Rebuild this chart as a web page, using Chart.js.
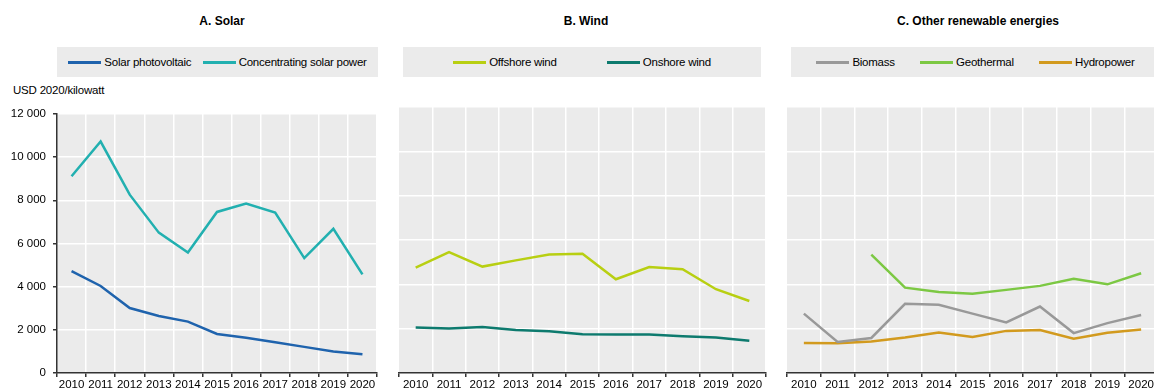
<!DOCTYPE html>
<html>
<head>
<meta charset="utf-8">
<script src="https://cdn.jsdelivr.net/npm/chart.js@4.4.1/dist/chart.umd.min.js"></script>
<style>
    body {
        margin: 0;
        width: 1154px;
        height: 390px;
        background: #fff;
        position: relative;
        overflow: hidden;
        font-family: "Liberation Sans", Arial, sans-serif;
        color: #000;
    }
    .title {
        position: absolute;
        top: 14px;
        font-size: 12px;
        font-weight: bold;
        white-space: nowrap;
        transform: translateX(-50%);
    }
    .legend {
        position: absolute;
        top: 47px;
        height: 30px;
        background: #ebebeb;
        display: flex;
        justify-content: space-evenly;
        align-items: center;
        font-size: 11.5px;
        letter-spacing: -0.25px;
    }
    .legend .item { display: flex; align-items: center; white-space: nowrap; }
    .legend .swatch { width: 33px; height: 3px; margin-right: 3px; }
    .unit { position: absolute; left: 13px; top: 84px; font-size: 11.5px; letter-spacing: -0.2px; white-space: nowrap; }
    .panel { position: absolute; top: 100px; height: 290px; }
</style>
</head>
<body>
    <div class="title" style="left:222px">A. Solar</div>
    <div class="title" style="left:586px">B. Wind</div>
    <div class="title" style="left:978px">C. Other renewable energies</div>

    <div class="legend" id="legendA" style="left:57px;width:321px"></div>
    <div class="legend" id="legendB" style="left:403px;width:358px"></div>
    <div class="legend" id="legendC" style="left:791px;width:369px"></div>

    <div class="unit">USD 2020/kilowatt</div>

    <div class="panel" style="left:0;width:385px"><canvas id="chartA"></canvas></div>
    <div class="panel" style="left:385px;width:390px"><canvas id="chartB"></canvas></div>
    <div class="panel" style="left:775px;width:390px"><canvas id="chartC"></canvas></div>

<script>
const years = ["2010", "2011", "2012", "2013", "2014", "2015", "2016", "2017", "2018", "2019", "2020"];

// USD 2020 per kilowatt
const solarPV    = [4720, 4030, 3010, 2640, 2380, 1810, 1630, 1420, 1210, 1000, 870];
const csp        = [9110, 10720, 8260, 6500, 5580, 7460, 7850, 7430, 5320, 6680, 4570];
const offshore   = [4750, 5450, 4800, 5080, 5350, 5380, 4230, 4780, 4680, 3780, 3250];
const onshore    = [2050, 2010, 2070, 1940, 1880, 1750, 1740, 1740, 1660, 1600, 1450];
const biomass    = [2680, 1400, 1580, 3120, 3080, 2680, 2280, 3000, 1800, 2250, 2620];
const geothermal = [null, null, 5340, 3850, 3650, 3580, 3750, 3930, 4250, 4000, 4500];
const hydropower = [1350, 1340, 1420, 1600, 1830, 1630, 1900, 1940, 1550, 1820, 1960];

const yMin = 0;
const yMax = 12000;
const yStep = 2000;

Chart.defaults.font.family = '"Liberation Sans", Arial, sans-serif';
Chart.defaults.font.size = 11.5;
Chart.defaults.color = "#000";

// grey plot area behind the grid
const plotBg = {
    id: "plotBg",
    beforeDraw(chart) {
        const { ctx, chartArea: a } = chart;
        ctx.save();
        ctx.fillStyle = "#ebebeb";
        ctx.fillRect(a.left, a.top, a.right - a.left, a.bottom - a.top);
        ctx.restore();
    },
};

function spaced(v) {
    return String(v).replace(/\B(?=(\d{3})+(?!\d))/g, " ");
}

function buildLegend(id, series) {
    const box = document.getElementById(id);
    series.forEach(s => {
        const item = document.createElement("div");
        item.className = "item";
        const sw = document.createElement("span");
        sw.className = "swatch";
        sw.style.background = s.color;
        const txt = document.createElement("span");
        txt.textContent = s.label;
        item.appendChild(sw);
        item.appendChild(txt);
        box.appendChild(item);
    });
}

function panel(canvasId, legendId, series, yWidth, rightPad, showY) {
    buildLegend(legendId, series);
    return new Chart(document.getElementById(canvasId), {
        type: "line",
        data: {
            labels: years,
            datasets: series.map(s => ({
                label: s.label,
                data: s.data,
                borderColor: s.color,
                backgroundColor: s.color,
                borderWidth: 2.5,
                pointRadius: 0,
                tension: 0,
                spanGaps: false,
            })),
        },
        options: {
            responsive: true,
            maintainAspectRatio: false,
            animation: false,
            layout: { padding: { top: 7, right: rightPad, left: 0, bottom: 0 } },
            plugins: { legend: { display: false }, tooltip: { enabled: false } },
            scales: {
                x: {
                    offset: true,
                    grid: {
                        offset: true,
                        color: ctx => (ctx.index === 0 ? "rgba(0,0,0,0)" : "#fff"),
                        lineWidth: 1.5,
                        tickColor: "#333",
                        tickLength: 4,
                    },
                    border: { color: "#333", width: 1.5 },
                    ticks: { padding: 1, maxRotation: 0, autoSkip: false },
                    afterFit(s) { s.height = 17; },
                },
                y: {
                    min: yMin,
                    max: yMax,
                    ticks: {
                        stepSize: yStep,
                        display: showY,
                        padding: 7,
                        callback: v => spaced(v),
                    },
                    grid: {
                        color: ctx => (ctx.tick && ctx.tick.value === 0 ? "rgba(0,0,0,0)" : "#fff"),
                        lineWidth: 1.5,
                        tickColor: "#333",
                        tickLength: 4,
                        drawTicks: showY,
                    },
                    border: { display: showY, color: "#333", width: 1.5 },
                    afterFit(s) { s.width = yWidth; },
                },
            },
        },
        plugins: [plotBg],
    });
}

panel("chartA", "legendA", [
    { label: "Solar photovoltaic", data: solarPV, color: "#1f63ad" },
    { label: "Concentrating solar power", data: csp, color: "#22b0b0" },
], 57, 8, true);

panel("chartB", "legendB", [
    { label: "Offshore wind", data: offshore, color: "#b8cf12" },
    { label: "Onshore wind", data: onshore, color: "#0d7a6e" },
], 14, 9, false);

panel("chartC", "legendC", [
    { label: "Biomass", data: biomass, color: "#999999" },
    { label: "Geothermal", data: geothermal, color: "#7cc843" },
    { label: "Hydropower", data: hydropower, color: "#d29a1e" },
], 12, 7, false);
</script>
</body>
</html>
